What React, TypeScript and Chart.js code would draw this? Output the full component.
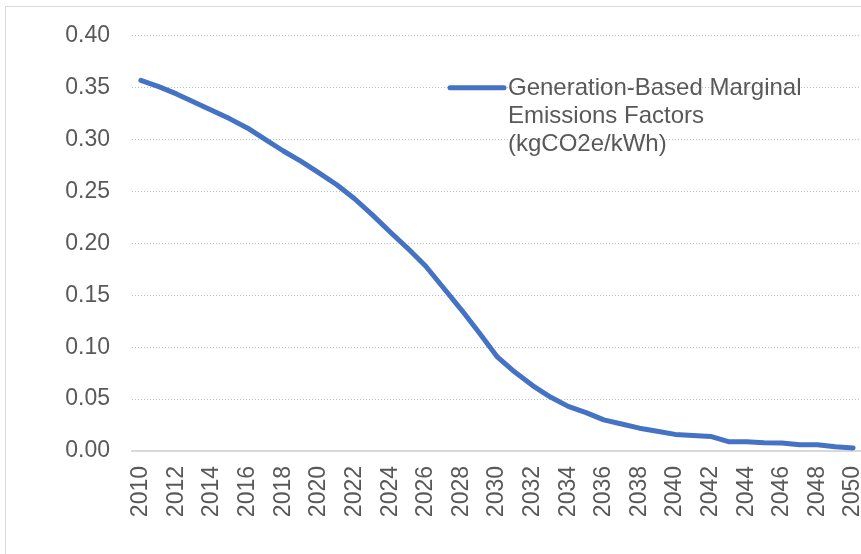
import { useEffect, useRef } from 'react';
import { Chart, registerables } from 'chart.js';

Chart.register(...registerables);

const years = [
  '2010', '2011', '2012', '2013', '2014', '2015', '2016', '2017', '2018', '2019',
  '2020', '2021', '2022', '2023', '2024', '2025', '2026', '2027', '2028', '2029',
  '2030', '2031', '2032', '2033', '2034', '2035', '2036', '2037', '2038', '2039',
  '2040', '2041', '2042', '2043', '2044', '2045', '2046', '2047', '2048', '2049',
  '2050',
];

const emissionFactors = [
  0.357, 0.351, 0.344, 0.336, 0.328, 0.320, 0.311, 0.300, 0.289, 0.279,
  0.268, 0.2565, 0.243, 0.2275, 0.211, 0.195, 0.178, 0.157, 0.136, 0.114,
  0.091, 0.076, 0.063, 0.052, 0.043, 0.037, 0.030, 0.026, 0.022, 0.019,
  0.016, 0.015, 0.014, 0.009, 0.0088, 0.008, 0.0077, 0.006, 0.006, 0.004,
  0.003,
];

const legendLines = ['Generation-Based Marginal', 'Emissions Factors', '(kgCO2e/kWh)'];

const FONT = '"Liberation Sans", Arial, sans-serif';
const TEXT = '#595959';
const LINE = '#4472C4';

const legendPlugin = {
  id: 'insideLegend',
  afterDraw(chart: any) {
    const { ctx, chartArea } = chart;
    const ds = chart.data.datasets[0];
    const x0 = chartArea.left + 318;
    const x1 = x0 + 54;
    const y = chartArea.top + 52;
    ctx.save();
    ctx.strokeStyle = ds.borderColor;
    ctx.lineWidth = 5;
    ctx.lineCap = 'round';
    ctx.beginPath();
    ctx.moveTo(x0, y);
    ctx.lineTo(x1, y);
    ctx.stroke();
    ctx.fillStyle = TEXT;
    ctx.font = `24px ${FONT}`;
    ctx.textBaseline = 'middle';
    ctx.textAlign = 'left';
    legendLines.forEach((l, i) => ctx.fillText(l, x1 + 4, y + 1 + i * 28));
    ctx.restore();
  },
};

export default function App() {
  const ref = useRef<HTMLCanvasElement>(null);
  useEffect(() => {
    if (!ref.current) return;
    const chart = new Chart(ref.current, {
      type: 'line',
      data: {
        labels: years,
        datasets: [
          {
            label: legendLines.join(' '),
            data: emissionFactors,
            borderColor: LINE,
            backgroundColor: LINE,
            borderWidth: 5,
            borderCapStyle: 'round',
            borderJoinStyle: 'round',
            pointRadius: 0,
            tension: 0,
            fill: false,
          },
        ],
      },
      options: {
        animation: false,
        responsive: false,
        maintainAspectRatio: false,
        layout: { padding: { top: 24, right: 0, bottom: 23, left: 0 } },
        plugins: { legend: { display: false }, tooltip: { enabled: false } },
        scales: {
          x: {
            offset: true,
            grid: { display: false, drawTicks: false },
            border: { display: true, color: '#d9d9d9', width: 2 },
            ticks: {
              autoSkip: false,
              maxRotation: 90,
              minRotation: 90,
              padding: 15,
              color: TEXT,
              font: { family: FONT, size: 23 },
              callback: (_v: any, i: number) => (i % 2 === 0 ? years[i] : ''),
            },
            afterFit: (s: any) => {
              s.height = 80;
              s.paddingRight = 0;
              s.paddingLeft = 0;
            },
          },
          y: {
            min: 0,
            max: 0.4,
            border: { display: false, dash: [1, 2] },
            grid: {
              color: (c: any) => (c.tick && c.tick.value === 0 ? 'rgba(0,0,0,0)' : '#bdbdbd'),
              drawTicks: false,
              lineWidth: 1,
            },
            ticks: {
              stepSize: 0.05,
              padding: 22,
              color: TEXT,
              font: { family: FONT, size: 23 },
              callback: (v: any) => Number(v).toFixed(2),
            },
            afterFit: (s: any) => {
              s.width = 132;
            },
          },
        },
      },
      plugins: [legendPlugin],
    } as any);
    return () => chart.destroy();
  }, []);

  return (
    <div
      style={{
        position: 'fixed',
        left: 0,
        top: 0,
        width: 861,
        height: 554,
        overflow: 'hidden',
        background: '#fff',
      }}
    >
      <div
        style={{
          position: 'absolute',
          left: 5,
          top: 6,
          width: 900,
          height: 600,
          border: '1px solid #d9d9d9',
          boxSizing: 'border-box',
        }}
      />
      <canvas
        ref={ref}
        width={862}
        height={554}
        style={{ position: 'absolute', left: 0, top: 0, width: 862, height: 554 }}
      />
    </div>
  );
}
